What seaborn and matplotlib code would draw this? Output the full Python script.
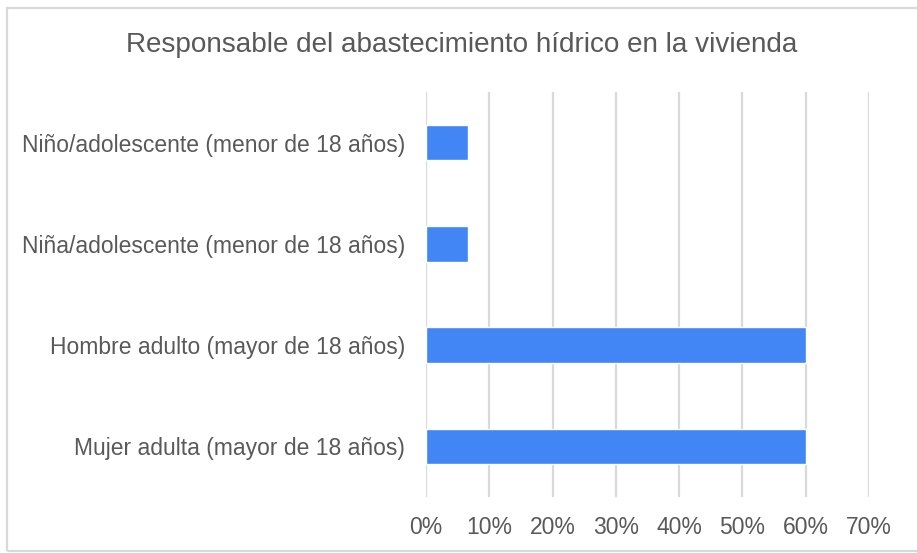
import matplotlib
matplotlib.use("Agg")
import matplotlib.pyplot as plt
from matplotlib.patches import Rectangle
from matplotlib.ticker import PercentFormatter
import seaborn as sns
import pandas as pd

# data
categories = ["Niño/adolescente (menor de 18 años)",
              "Niña/adolescente (menor de 18 años)",
              "Hombre adulto (mayor de 18 años)",
              "Mujer adulta (mayor de 18 años)"]
shares = [6.67, 6.67, 60.0, 60.0]
x_ticks = [0, 10, 20, 30, 40, 50, 60, 70]
title = "Responsable del abastecimiento hídrico en la vivienda"

df = pd.DataFrame({"categoria": categories, "porcentaje": shares})

sns.set_theme(style="white")
plt.rcParams['font.family'] = ['Liberation Sans', 'DejaVu Sans']
text_color = "#595959"
grid_color = "#d9d9d9"

fig = plt.figure(figsize=(9.17, 5.53), dpi=100)
ax = fig.add_axes([0.4646, 0.1013, 0.4831, 0.7324])

sns.barplot(data=df, y="categoria", x="porcentaje", orient="h",
            color="#4285f4", saturation=1, width=0.35, ax=ax, zorder=3)

ax.set_xlim(0, 70)
ax.set_ylim(3.5, -0.5)
ax.set_xticks(x_ticks)
ax.xaxis.set_major_formatter(PercentFormatter(decimals=0))
ax.grid(axis="x", color=grid_color, linewidth=1.6, zorder=0)
ax.grid(axis="y", visible=False)
for s in ax.spines.values():
    s.set_visible(False)
ax.tick_params(axis="y", length=0, pad=15, labelsize=16.5, labelcolor=text_color)
ax.tick_params(axis="x", length=0, pad=14, labelsize=16.5, labelcolor=text_color)
ax.set_xlabel("")
ax.set_ylabel("")

fig.text(0.504, 0.919, title, ha="center", va="center",
         fontsize=20.1, color=text_color)

# light frame around the chart (right edge cut off in the reference)
fig.patches.append(Rectangle((0.0076, 0.0036), 1.2, 0.9820,
                             transform=fig.transFigure, fill=False,
                             edgecolor=grid_color, linewidth=1.6))

fig.savefig("out.png", dpi=100)
